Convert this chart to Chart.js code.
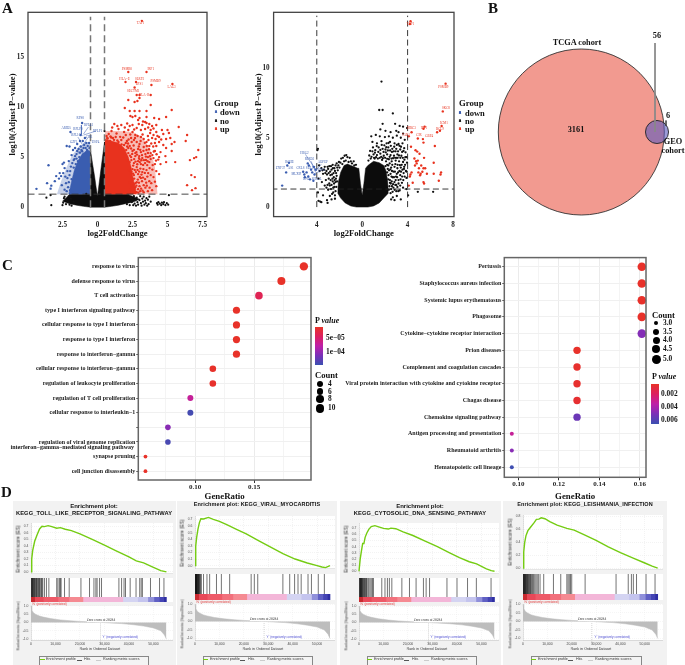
<!DOCTYPE html>
<html><head><meta charset="utf-8">
<script src="https://cdn.jsdelivr.net/npm/chart.js@4"></script>
<style>
html,body{margin:0;padding:0;background:#fff}
#root{position:relative;width:685px;height:665px;overflow:hidden}
canvas{position:absolute}
.t{position:absolute;white-space:nowrap;line-height:1;will-change:transform}
</style></head><body><div id="root"></div>
<script>
// ---------- Panel A, TCGA volcano ----------
const v1XTicks=[-2.5,0,2.5,5,7.5], v1YTicks=[0,5,10,15], v1Cuts=[-0.5,0.5], v1PCut=1.3;
const v1BlackEnv=[[-2.5,.6],[-2.2,1],[-2,1.3],[-.5,1.3],[-.5,5.7],[-.35,4.3],[-.2,3],[-.1,2],[0,1.1],[.1,2.2],[.2,3.3],[.35,4.9],[.5,6.5],[.5,1.3],[2.1,1.3],[2.5,1.1],[3,.8]];
const v1BlackLow=[[-2.5,.6],[-2,.35],[-1.5,.2],[-1,.08],[-.5,0],[.5,0],[1,.08],[1.5,.2],[2,.35],[2.5,.5],[3,.8]];
const v1BlueEnv=[[-2.05,1.3],[-2,1.6],[-1.85,2.6],[-1.65,3.7],[-1.4,4.6],[-1.1,5.3],[-.8,5.6],[-.52,5.6]];
const v1RedEnv=[[.52,6.8],[1,6.6],[1.5,6.4],[1.9,5.9],[2.2,5],[2.4,4],[2.6,2.5],[2.8,1.3]];
const v1RedHaze=[[.52,7.6],[1.5,7.6],[2.5,7.5],[3.2,7],[3.8,5.6],[4.1,4],[4.2,2.4],[4.3,1.3]];
const v1BlueHaze=[[-2.9,1.3],[-2.6,2.6],[-2.2,4],[-1.8,5.2],[-1.3,6.1],[-.8,6.5],[-.52,6.5]];
const v1Black=[[-3.65,.95],[-3.35,1.2],[-3.3,.2],[-2.5,.2],[-2.45,.45],[-2.4,.9],[-2.35,1.05],[-2.25,.3],[-2.2,.7],[-2.1,.5],[-2,.25],[-2,1.1],[-1.9,.85],[-1.85,.15],[-1.7,.55],[2.1,.3],[2.2,1.15],[2.25,.6],[2.3,.2],[2.4,.9],[2.45,.5],[2.5,.75],[2.55,.2],[2.6,1.1],[2.65,.35],[2.7,.7],[2.75,.15],[2.8,.95],[2.85,.5],[2.9,.25],[3,.7],[3.05,1.1],[3.1,.4],[3.15,.15],[3.2,.85],[3.25,.55],[3.3,1.05],[3.35,.25],[3.4,.65],[3.45,.4],[3.5,.9],[3.55,.15],[3.6,.75],[3.65,.3],[3.7,1.05],[3.8,.55],[4.25,.4],[4.3,.25],[4.35,.5],[4.45,.35],[4.55,.2],[4.6,.45],[4.7,.3],[4.75,.5],[4.85,.2],[4.95,.4],[5.05,.25],[5.1,1.2],[-.8,1.32],[.5,7.6]];
const v1Blue=[[-4.36,1.83],[-3.5,4.18],[-3.6,2.4],[-3.3,2.15],[-3.35,1.85],[-2.95,3.1],[-3.05,2.6],[-2.75,2.85],[-2.7,3.4],[-2.5,4.3],[-2.4,4.45],[-2.55,2.2],[-2.35,3.9],[-2.3,3.05],[-2.25,2.4],[-2.2,6.1],[-2,6.05],[-2.15,3.6],[-2.1,2],[-2.05,4.6],[-2,3.2],[-1.95,1.7],[-1.93,7.5],[-1.9,4.05],[-1.85,5.2],[-1.85,2.8],[-1.75,5.7],[-1.7,4.7],[-1.75,1.5],[-1.6,5.9],[-1.55,4.3],[-1.5,5.3],[-1.45,6.3],[-1.4,4.6],[-1.35,5.8],[-1.3,5],[-1.25,6.6],[-1.2,7.2],[-1.1,8.4],[-1.1,5.6],[-1,5.9],[-.95,6.2],[-.9,6.9],[-.8,6.4],[-.75,5.7],[-.7,6.1],[-.65,5.55],[-.55,5.9],[-2.2,1.6],[-2.35,1.75],[-2.15,2.9],[-2.05,2.5],[-1.95,3.6],[-1.8,4.4],[-1.7,3.95],[-1.6,5.1],[-1.65,4.8],[-1.5,4.85],[-1.45,5.6],[-1.25,5.45],[-1.2,6.05],[-1.15,5.7],[-1.05,6.6],[-.85,5.9],[-.6,6.4],[-2.45,3.4],[-2.6,3.1]];
const v1Red=[[3.17,18.6],[2.2,13.5],[3.5,13.5],[2,12.5],[2.75,12.5],[2.65,11.95],[3.85,12.2],[5.35,12.3],[2.8,11.2],[3,11.2],[3.8,11.2],[3,10.9],[2.2,10.7],[2.65,10.5],[2.85,10.6],[3.8,10.2],[1.95,9.9],[2.3,9.6],[2.65,9.6],[3,9.6],[3.5,9.6],[5.3,9.7],[2.35,9.1],[2.5,9],[2.7,9.1],[3,8.9],[3.5,9],[4.05,8.9],[4.9,9],[4.4,8.8],[2.9,8.7],[1.2,8.3],[1.7,8.2],[2.3,8.1],[2.5,8.2],[3.2,8.2],[3.4,8.5],[3.5,8.4],[3.7,8.3],[3.9,8.1],[4.2,8.2],[5.8,8],[5,7.7],[4.6,7.7],[1.5,7.8],[2.2,7.7],[2.8,7.9],[3.1,7.7],[3.4,7.8],[3.8,7.7],[1,7.6],[1.9,7.5],[2.5,7.5],[4.2,7.5],[4.7,7.3],[5.1,7.4],[6.4,7.2],[6.3,6.6],[5.5,6.5],[5.3,6.3],[5.2,6.9],[4.4,6.5],[4.9,6.8],[4.7,6.2],[4.1,6.4],[4.2,6.1],[3.7,6.1],[3.3,6.8],[2.8,6.5],[2.4,6.9],[2.1,6.6],[1.7,6.7],[1.3,7],[.8,7.3],[.65,7.1],[1.1,6.9],[1.5,6.5],[1.9,6.2],[2.3,6.1],[2.6,6.7],[3,6.3],[3.5,6.5],[3.9,6.9],[3.1,7],[2.7,7.2],[3.6,7.1],[4,7.2],[4.4,7],[3.3,6],[2.9,5.8],[2.5,5.6],[2.2,5.4],[2.05,5.7],[2.4,5],[2.7,5.1],[3.1,5.5],[3.5,5.7],[3.8,5.4],[4.1,5.6],[4.5,5.5],[4.9,5.9],[4.85,5.1],[4.4,5],[4,4.9],[3.6,5],[3.2,4.9],[2.9,4.6],[2.6,4.4],[2.3,4.5],[2.5,3.8],[2.8,4],[3.1,4.3],[3.4,4.4],[3.7,4.5],[4.1,4.3],[4.9,4.5],[5.55,4.5],[5.3,5.6],[7.2,5.7],[7.05,5],[6.9,4.9],[6.6,4.7],[6.7,3.2],[6.95,3],[6.4,2.2],[7,1.9],[6.75,1.7],[4.2,2.1],[3.9,1.7],[3.6,1.6],[3.8,3.2],[3.5,3.7],[3.2,3.5],[2.9,3.3],[2.6,3.2],[2.35,3.4],[2.5,2.7],[2.8,2.5],[3.1,2.9],[3.4,2.8],[3.7,2.6],[4,3],[3.3,2.2],[3,2.1],[2.7,2],[2.45,2.2],[2.55,1.6],[2.8,1.5],[3.05,1.6],[3.3,1.5],[2.9,1.8],[2.1,4.7],[1.95,5.3],[1.8,5.8],[1.55,5.9],[1.25,6.3],[.9,6.6],[.7,6.9],[2.25,3.7],[2.3,2.5],[2.45,1.45],[3.55,4.2],[2.7,5.4],[3,4.8],[2.2,5.9]];
const v1RedMore=[[.72,6.85],[.93,7.05],[1.18,6.72],[1.36,7.35],[1.62,7.02],[1.84,6.95],[2.02,7.2],[2.18,6.35],[2.34,7.25],[2.44,6.5],[2.58,6.15],[2.68,6.9],[2.86,7.1],[2.95,6.05],[3.08,6.6],[3.22,7.25],[3.38,6.42],[3.52,6.1],[3.64,6.7],[3.76,7.4],[3.84,6.35],[3.98,6.05],[4.15,6.8],[4.28,7.1],[4.55,6.75],[1.05,7.95],[1.42,8.1],[1.95,7.95],[2.12,8.35],[2.62,7.75],[2.95,8.3],[3.25,8.55],[3.62,7.95],[4,7.85],[2.32,5.15],[2.48,5.32],[2.6,5.72],[2.78,5.5],[2.82,5.25],[2.98,5.1],[3.05,5.72],[3.18,5.2],[3.28,5.62],[3.42,5.3],[3.46,5.05],[3.6,5.42],[3.68,5.78],[3.74,5.08],[3.92,5.2],[4.02,5.55],[4.22,5.28],[4.34,4.75],[2.42,4.7],[2.55,4.15],[2.62,4.8],[2.72,4.55],[2.84,4.28],[2.96,4.9],[3.02,4.5],[3.14,4.68],[3.26,4.22],[3.32,4.7],[3.46,4.72],[3.58,4.58],[3.8,4.8],[3.94,4.2],[4.18,4.65],[4.5,4.3],[2.42,3.55],[2.54,3.35],[2.66,3.72],[2.74,3.5],[2.86,3.72],[2.98,3.55],[3.06,3.85],[3.14,3.25],[3.28,3.8],[3.38,3.42],[3.62,3.4],[3.72,3.9],[3.92,3.75],[4.2,3.6],[4.4,3.3],[2.62,2.85],[2.7,2.4],[2.88,2.75],[2.96,2.45],[3.02,3.02],[3.18,2.6],[3.25,2.95],[3.48,2.45],[3.56,3.05],[3.84,2.4],[4.1,2.55],[2.64,1.85],[2.78,2.15],[2.92,1.45],[3.12,1.85],[3.22,1.65],[3.42,1.95],[3.52,2.15],[3.72,1.95],[2.62,2.25],[2.5,2.1],[2.35,1.75],[2.4,5.85],[2.12,6.05],[1.72,6.25],[1.42,6.65],[.98,6.95],[2.22,6.75],[2.02,6.4]];
const v1Leaders=[[-1.15,8.2],[-1.15,7.3],null,[-.65,8],[-1,7.3],null,[-.1,7.6],[-1,7.2],null,[-.7,6.9],[-1.2,5.9],null,[-.5,6.2],[-.9,5.3],null,[-1.4,7],[-1.1,6.3]];
const v1Names=[["TAP1",3.07,18.33],["PSMB8",2.1,13.8],["IRF1",3.8,13.76],["HLA−E",1.93,12.8],["SLRF3",3,12.8],["PSMB9",4.14,12.55],["EPS1",2.98,12.29],["LAG3",5.29,11.96],["SECTM1",2.55,11.54],["HLA−B",3.33,11.2]];
const v1BlueNames=[["RPS8",-1.24,8.85],["ARID5",-2.24,7.88],["RPLP0",-1.4,7.8],["RPL41",-.64,8.23],["RPLP1",0,7.6],["RPL10A",-1.47,7.19],["CIR1",-.6,7.03],["GZF1",-1.7,6.5],["USP4",-.14,6.44],["RPS12",-1.12,5.4]];
// ---------- Panel A, GEO volcano ----------
const v2XTicks=[-4,0,4,8], v2YTicks=[0,5,10], v2Cuts=[-4,4], v2PCut=1.3;
const v2Upper=[[-2.15,1],[-2.1,1.8],[-1.9,2.5],[-1.6,3],[-1.3,3.1],[-1,3],[-.7,2.9],[-.4,2.8],[-.3,2.8],[-.15,1.7],[0,.85],[.15,1.7],[.3,2.8],[.5,3],[1,3.3],[1.5,3.2],[1.9,3],[2.1,2.6],[2.25,1.8],[2.3,1]];
const v2Lower=[[-2.15,1],[-1.9,.65],[-1.5,.3],[-1,.08],[-.5,0],[.5,0],[1,.08],[1.5,.3],[1.9,.65],[2.3,1]];
const v2Black=[[1.7,9.05],[1.5,7],[1.8,7],[2.7,6.75],[1.8,6],[2.9,6],[3.3,5.85],[3.6,5.8],[1.6,5.6],[2.05,5.5],[2.5,5.4],[3,5.5],[3.2,5.4],[3.6,5.3],[3.95,5.7],[.8,5.1],[1.2,5.2],[1.55,5.1],[2,5.05],[2.35,5.1],[2.7,5],[3.05,5.15],[3.4,5],[3.75,4.85],[.9,4.7],[1.3,4.6],[1.7,4.75],[2.15,4.6],[2.45,4.7],[2.85,4.6],[3.2,4.55],[3.55,4.6],[.95,4.3],[1.15,4.1],[1.45,4.3],[1.8,4.2],[2.05,4.15],[2.3,4.3],[2.65,4.2],[3,4.2],[3.35,4.15],[3.7,4.25],[1,3.8],[1.3,3.75],[1.6,3.85],[1.9,3.7],[2.2,3.8],[2.5,3.75],[2.8,3.7],[3.1,3.8],[3.45,3.7],[3.8,3.6],[.75,3.5],[1.1,3.5],[1.75,3.4],[2.1,3.3],[2.35,3.45],[2.6,3.3],[2.95,3.35],[3.25,3.3],[3.6,3.25],[3.95,3.2],[2.05,2.95],[2.3,3],[2.55,2.85],[2.85,2.9],[3.1,2.8],[3.4,2.85],[3.7,2.9],[2.2,2.5],[2.5,2.4],[2.75,2.55],[3.05,2.4],[3.35,2.3],[3.65,2.45],[3.9,2.1],[2.3,2],[2.6,1.85],[2.95,1.95],[3.2,1.7],[3.5,1.75],[2.4,1.5],[2.75,1.4],[3,1.15],[3.3,1.2],[2.5,1],[2.7,.7],[2.85,.5],[3.05,.8],[3.4,.55],[3.9,1.3],[4.05,.85],[4.9,1.1],[6.25,1.1],[-.7,3],[-1,3.3],[-1.3,3.6],[-1.55,3.7],[-1.85,3.5],[-1.45,3.35],[-1.75,3.1],[-2.1,3],[-2.35,3],[-2.6,3.05],[-2.9,2.95],[-2.15,2.65],[-2.4,2.6],[-2.7,2.7],[-3,2.75],[-3.3,2.9],[-3.6,2.8],[-2.25,2.25],[-2.5,2.15],[-2.8,2.3],[-3.1,2.35],[-3.45,2.4],[-3.75,2.6],[-2.35,1.8],[-2.6,1.85],[-2.9,1.7],[-3.2,1.95],[-3.55,1.8],[-2.45,1.45],[-2.75,1.3],[-3,1.25],[-2.55,1.05],[-2.85,.8],[-3.1,.5],[-3.45,.85],[-3.05,.3],[-3.85,.45],[-3.7,.4],[-3.6,.35],[-3.9,1.05],[-3.95,4.1],[-3.9,4.2],[-3.85,2.05],[-2.4,.6],[2.55,.55],[-3.8,3]];
const v2BlackMore=[[.55,3.35],[.62,3.72],[.7,4.05],[.82,3.62],[.9,4.02],[1.05,3.55],[1.12,3.92],[1.22,3.6],[1.28,4.4],[1.38,3.5],[1.42,3.98],[1.55,3.55],[1.6,4.12],[1.68,3.62],[1.72,4.48],[1.82,3.52],[1.88,3.98],[1.95,4.45],[2.02,3.55],[2.08,3.95],[2.12,4.32],[2.2,3.48],[2.26,4.08],[2.32,4.62],[2.42,3.62],[2.46,4.08],[2.52,4.42],[2.58,3.5],[2.62,3.98],[2.72,3.52],[2.78,4.02],[2.82,4.35],[2.9,3.55],[2.94,4.02],[3.02,3.55],[3.05,4.48],[3.12,3.55],[3.16,4.02],[3.24,3.72],[3.28,4.42],[3.36,3.55],[3.42,4.35],[3.52,3.98],[3.58,3.55],[3.64,4.05],[3.72,3.42],[3.82,3.95],[3.9,3.6],[2.12,2.1],[2.2,3.05],[2.25,2.75],[2.32,2.3],[2.36,2.65],[2.42,3.15],[2.44,1.95],[2.48,2.72],[2.52,1.7],[2.58,2.2],[2.62,2.6],[2.65,3.05],[2.68,2.15],[2.72,1.65],[2.8,2.15],[2.84,1.8],[2.88,2.55],[2.92,3.1],[2.98,2.2],[3,1.6],[3.08,2.15],[3.12,3.05],[3.16,2.5],[3.2,1.95],[3.28,2.6],[3.32,3.02],[3.38,2],[3.42,2.55],[3.48,3.05],[3.52,2.2],[3.55,2.7],[3.62,1.95],[3.68,2.75],[3.74,2.2],[3.78,3.05],[3.85,2.6],[3.92,2.55],[2.35,1.25],[2.45,1.75],[2.55,1.3],[2.62,1.5],[2.68,1.1],[2.85,1.25],[2.92,1.6],[3.1,1.45],[3.18,1.15],[3.35,1.55],[3.6,1.4],[-.55,3.05],[-.75,3.3],[-.9,3.15],[-1.1,3.55],[-1.2,3.25],[-1.4,3.75],[-1.6,3.3],[-1.7,3.55],[-1.92,3.2],[-2,2.85],[-2.05,3.25],[-2.2,2.85],[-2.25,3.15],[-2.3,2.45],[-2.45,2.8],[-2.52,2.45],[-2.58,2.8],[-2.65,2.35],[-2.75,2.95],[-2.82,2.55],[-2.95,2.45],[-3.05,2.9],[-3.15,2.6],[-3.25,2.45],[-3.35,2.7],[-3.5,2.65],[-2.22,1.85],[-2.28,1.45],[-2.32,2.05],[-2.42,1.95],[-2.48,1.7],[-2.55,1.4],[-2.62,2.05],[-2.7,1.6],[-2.78,1.95],[-2.85,1.55],[-2.95,2.05],[-3.05,1.6],[-3.15,1.4],[-3.3,1.55],[-2.35,1.15],[-2.4,.85],[-2.65,.95],[-2.7,.55]];
const v2Red=[[4.26,13.4],[4.2,13.2],[7.35,8.9],[7.1,6.9],[7,5.85],[6.6,5.4],[6.85,5.5],[5.5,5.8],[5.4,5.65],[4.35,5.4],[4.1,5.1],[4.9,4.95],[5.35,4.9],[5.4,4.65],[6.4,4.4],[4.3,4.35],[4.7,4.1],[4.85,4],[5.05,3.85],[4.6,3.5],[4.75,3.3],[4.9,3.35],[5.45,3.55],[6.3,3.2],[4.65,3],[4.8,3.15],[5.2,3],[5,2.8],[5.4,2.8],[5.55,2.8],[5.3,2.55],[4.35,2.5],[4.25,2.35],[4.95,2.5],[5.15,2.4],[5.7,2.4],[6.3,2.4],[6.95,2.5],[6.9,2.35],[4.2,2.2],[5.1,2.3],[6.75,1.9],[4.45,1.75],[5.4,1.8],[5.45,1.7],[4.1,1.55]];
const v2Blue=[[-7.05,1.55],[-6.7,2.5],[-6.6,3],[-6.45,3.2],[-5.2,2.55],[-5.1,2.35],[-5.05,2.15],[-4.9,2.5],[-4.75,2.2],[-4.8,3.15],[-4.7,3],[-4.5,2.7],[-4.4,2.5],[-4.25,2.9],[-4.2,2.35],[-4.1,2.7],[-4.6,2],[-4.3,1.9]];
const v2Leaders=[[-5,3.8],[-4.1,2.7],null,[-4.5,3.3],[-4.1,2.5],null,[-3.6,3.1],[-4.1,2.6],null,[-3.7,2.6],[-4.2,2.4]];
const v2Names=[["TAP1",4.26,13.2],["PSMB9",7.15,8.68],["SKC8",7.38,7.1],["ICM1",7.2,6.08],["BCL9",6.85,5.6],["BIRC3",4.32,5.68],["IRF1",5.44,5.68],["TAB1",3.85,5.19],["CIR",5,5.2],["GBP4",5.9,5.14]];
const v2BlueNames=[["HBG2",-5.09,3.89],["KIRD1",-4.62,3.42],["BCHE",-6.4,3.25],["ZNF37",-7.2,2.78],["AS1",-6.3,2.78],["CRLS",-5.44,2.78],["SULF2",-4.55,2.78],["AOPEP",-3.47,3.25],["FCHO",-3.68,2.64],["MLXIP",-5.8,2.4],["BNC",-4.9,1.98],["SH3GL",-4,1.98]];
// ---------- Panel B ----------
const vennSets=["TCGA cohort","GEO cohort"], vennTotals=[3217,62], vennCounts=[3161,56,6];
// ---------- Panel C ----------
const goTerms=["response to virus","defense response to virus","T cell activation","type I interferon signaling pathway","cellular response to type I interferon","response to type I interferon","response to interferon−gamma","cellular response to interferon−gamma","regulation of leukocyte proliferation","regulation of T cell proliferation","cellular response to interleukin−1","","regulation of viral genome replication","synapse pruning","cell junction disassembly"];
const goRatio=[.192,.173,.154,.135,.135,.135,.135,.115,.115,.096,.096,.077,.077,.058,.058];
const goCount=[10,9,8,7,7,7,7,6,6,5,5,4,4,3,3];
const goP=[.8e-5,.8e-5,3.5e-5,.8e-5,.8e-5,.8e-5,.8e-5,.9e-5,1e-5,7e-5,14.2e-5,10.5e-5,14e-5,.8e-5,.8e-5];
const keggTerms=["Pertussis","Staphylococcus aureus infection","Systemic lupus erythematosus","Phagosome","Cytokine−cytokine receptor interaction","Prion diseases","Complement and coagulation cascades","Viral protein interaction with cytokine and cytokine receptor","Chagas disease","Chemokine signaling pathway","Antigen processing and presentation","Rheumatoid arthritis","Hematopoietic cell lineage"];
const keggRatio=[.161,.161,.161,.161,.161,.129,.129,.129,.129,.129,.0968,.0968,.0968];
const keggCount=[5,5,5,5,5,4,4,4,4,4,3,3,3];
const keggP=[.0005,.0005,.0005,.0005,.0049,.0005,.0006,.0006,.0007,.0055,.0032,.0048,.0066];
// ---------- Panel D ----------
const gseaNames=["KEGG_TOLL_LIKE_RECEPTOR_SIGNALING_PATHWAY","KEGG_VIRAL_MYOCARDITIS","KEGG_CYTOSOLIC_DNA_SENSING_PATHWAY","KEGG_LEISHMANIA_INFECTION"];
const es1=[[0,0],[300,.2],[700,.33],[1500,.47],[2500,.57],[3500,.66],[4500,.7],[5500,.695],[7000,.71],[8500,.695],[10500,.67],[12000,.68],[14000,.655],[16500,.635],[20000,.585],[25000,.5],[30000,.41],[35000,.32],[40000,.23],[43000,.17],[46000,.14],[50000,.07],[53000,.02],[55300,0]];
const es2=[[0,0],[300,.3],[700,.43],[1200,.55],[1800,.65],[2400,.71],[3500,.705],[5500,.73],[7500,.7],[10000,.67],[13000,.62],[17000,.55],[21000,.48],[26000,.38],[31000,.28],[36000,.18],[41000,.1],[46000,.04],[50000,0],[52000,-.02],[53500,-.03],[55300,0]];
const es3=[[0,0],[500,.2],[1000,.33],[1500,.45],[2000,.45],[2500,.55],[3200,.62],[4000,.68],[5000,.725],[6500,.74],[8000,.72],[10000,.695],[12000,.685],[13000,.7],[15000,.69],[18000,.64],[22000,.58],[27000,.49],[32000,.4],[37000,.3],[41000,.22],[45000,.155],[48000,.12],[52000,.04],[54000,.01],[55300,0]];
const es4=[[0,0],[300,.25],[700,.4],[1200,.5],[2000,.58],[3000,.63],[4500,.7],[5500,.755],[6500,.76],[7500,.78],[9000,.765],[11000,.72],[14000,.665],[18000,.615],[21000,.59],[25000,.52],[30000,.43],[35000,.33],[40000,.24],[45000,.16],[50000,.08],[53000,.03],[55300,0]];
const hits1=[100,250,400,550,700,900,1100,1300,1500,1700,2000,2200,2400,2700,3100,3300,3500,4000,4200,4500,4800,5500,6300,7300,10500,11000,11600,12000,12300,13700,15600,20400,23900,25700,26500,27000,28000,28800,35900,37000,38000,38600,40500,42900,44400,45000,45500,48800,52500,54300];
const hits2=[100,200,300,400,500,600,700,850,1000,1150,1300,1450,1600,1800,2000,2300,2600,3500,4900,6000,8800,10800,14200,23000,24300,25700,36000,38800,40800,42200,43500,46300,47700,50500,53000];
const hits3=[150,300,450,600,750,900,1050,1200,1400,1600,1900,2100,2300,2700,2900,3100,3600,4000,4500,5000,5500,5900,9300,10600,11600,12400,13400,17500,20600,23300,26300,27400,28800,35900,40000,44300,47900,53900];
const hits4=[100,200,350,500,650,800,950,1100,1300,1500,1700,1900,2100,2300,2700,2900,3100,3500,3900,4300,4800,5300,5800,6300,7000,8500,12500,15500,18000,18500,19000,19500,20000,25500,38200,43200,44500,45300,46600,50500,54200];
const rankMetric=[[0,1],[300,.75],[1000,.58],[2000,.48],[3500,.38],[5000,.32],[8000,.23],[12000,.15],[16000,.1],[20000,.06],[25000,.02],[28284,0],[32000,-.03],[37000,-.07],[42000,-.14],[46000,-.22],[50000,-.33],[53000,-.5],[54500,-.75],[55300,-1]];
const heatWidths=[1500,3500,6000,4500,5700,16300,6000,4200,2500,2200,1800,1100];
const heatColors=["#c92a30","#e84858","#ee5a68","#f2707c","#f58a92","#f3b6d8","#d4d4f2","#c4c4ee","#9090da","#6060c4","#4444b4","#2e2ea2"];
const gseaXTicks=[0,10000,20000,30000,40000,50000], zeroCross=28284;

// ---------- helpers ----------
const root=document.getElementById('root');
const SERIF='"Liberation Serif"', SANS='"Liberation Sans"';
const RED='#e8321e', BLUE='#3a5db0';
function T(txt,x,y,o={}){const d=document.createElement('div');d.className='t';
  if(o.html)d.innerHTML=txt;else d.textContent=txt;
  const s=d.style;s.left=x+'px';s.top=y+'px';s.fontFamily=o.font||SERIF;s.fontSize=(o.size||8)+'px';s.fontWeight=o.bold===false?'normal':'bold';
  s.color=o.color||'#111';
  const ax=o.align==='center'?'-50%':o.align==='right'?'-100%':'0';
  s.transform=`translate(${ax},-50%)`+(o.rot?` rotate(${o.rot}deg)`:'');
  if(o.bg)s.background=o.bg;
  root.appendChild(d);return d;}
function Box(x,y,w,h,o={}){const d=document.createElement('div');const s=d.style;s.position='absolute';s.left=x+'px';s.top=y+'px';s.width=w+'px';s.height=h+'px';
  Object.assign(s,o);root.appendChild(d);return d;}
function calib(p1,v1,p2,v2,a,b){const k=(v2-v1)/(p2-p1);return [v1+(a-p1)*k,v1+(b-p1)*k];}
const xy=a=>a.map(p=>p?{x:p[0],y:p[1]}:{x:null,y:null});
Chart.register({id:'area',
  beforeDraw(c,_,o){if(o.bg){c.ctx.fillStyle=o.bg;const a=c.chartArea;c.ctx.fillRect(a.left,a.top,a.right-a.left,a.bottom-a.top);}},
  afterDatasetsDraw(c,_,o){if(o.frame){const a=c.chartArea,x=c.ctx;x.save();x.strokeStyle=o.frame;x.lineWidth=o.lw||1;x.strokeRect(a.left,a.top,a.right-a.left,a.bottom-a.top);x.restore();}
    if(o.labels){const x=c.ctx;x.save();x.textAlign='center';x.textBaseline='middle';
      for(const g of o.labels){x.font=g.font;x.fillStyle=g.color;for(const n of g.items){x.fillText(n[0],c.scales.x.getPixelForValue(n[1]),c.scales.y.getPixelForValue(n[2]));}}x.restore();}}
});
function place(r,pad,cfg){const [L,T_,R,B]=pad;const c=document.createElement('canvas');
  const W=Math.round(r.r-r.l+L+R),H=Math.round(r.b-r.t+T_+B);
  c.width=W;c.height=H;c.style.left=(r.l-L)+'px';c.style.top=(r.t-T_)+'px';c.style.width=W+'px';c.style.height=H+'px';root.appendChild(c);
  const o=cfg.options=cfg.options||{};o.responsive=false;o.animation=false;o.events=[];
  o.layout={autoPadding:false,padding:{left:0,top:T_,right:R,bottom:0}};
  o.plugins=Object.assign({legend:{display:false},tooltip:{enabled:false}},o.plugins||{});
  if(o.scales&&o.scales.x&&o.scales.x.display!==false)o.scales.x.afterFit=s=>{s.height=B;};
  if(o.scales&&o.scales.y&&o.scales.y.display!==false)o.scales.y.afterFit=s=>{s.width=L;};
  return new Chart(c,cfg);}
const fixTicks=list=>(s=>{s.ticks=list.map(v=>({value:v}));});
const vline=(x,a,b,color,w,dash)=>({type:'line',data:[{x,y:a},{x,y:b}],borderColor:color,borderWidth:w,borderDash:dash,pointRadius:0,tension:0});
const hline=(y,a,b,color,w,dash)=>({type:'line',data:[{x:a,y},{x:b,y}],borderColor:color,borderWidth:w,borderDash:dash,pointRadius:0,tension:0});
const area=(d,color,fill)=>({type:'line',data:xy(d),borderColor:color,borderWidth:.5,backgroundColor:color,fill,pointRadius:0,tension:0});
const haze=(d,color,value)=>({type:'line',data:xy(d),borderWidth:0,borderColor:'rgba(0,0,0,0)',backgroundColor:color,fill:{value},pointRadius:0,tension:0});
const dots=(d,color,r)=>({type:'scatter',data:xy(d),backgroundColor:color,borderWidth:0,pointRadius:r});
const leaders=(d,color)=>({type:'line',data:xy(d),borderColor:color,borderWidth:.5,pointRadius:0,tension:0,spanGaps:false});
const abs=v=>String(Math.abs(v));
const smallFont='3.2px '+SERIF;

// ---------- A: volcano charts ----------
function volcano(rect,pad,xr,yr,xt,yt,ds,labels){
  return place(rect,pad,{type:'scatter',data:{datasets:ds},options:{
    scales:{
      x:{type:'linear',min:xr[0],max:xr[1],afterBuildTicks:fixTicks(xt),grid:{display:false,tickLength:3,tickColor:'#333'},border:{display:false},
        ticks:{callback:abs,font:{family:SERIF,weight:'bold',size:7.2},color:'#222',padding:1,maxRotation:0},
        title:{display:true,text:'log2FoldChange',font:{family:SERIF,weight:'bold',size:8.6},color:'#111',padding:0}},
      y:{type:'linear',min:yr[0],max:yr[1],afterBuildTicks:fixTicks(yt),grid:{display:false,tickLength:3,tickColor:'#333'},border:{display:false},
        ticks:{font:{family:SERIF,weight:'bold',size:7.2},color:'#222',padding:1},
        title:{display:true,text:'log10(Adjust P−value)',font:{family:SERIF,weight:'bold',size:8.6},color:'#111',padding:0}}},
    plugins:{area:{frame:'#444',lw:1.3,labels}}}});
}
const r1={l:28,t:9.3,r:207,b:217.3};
volcano(r1,[20,2,3,22.4],calib(97.5,0,132.5,2.5,28,207),calib(207.7,0,156.7,5,217.3,9.3),v1XTicks,v1YTicks,[
  vline(v1Cuts[0],0,19,'#777',1.5,[7,4]),vline(v1Cuts[1],0,19,'#777',1.5,[7,4]),hline(v1PCut,-5,8,'#333',.9,[7,4]),
  leaders(v1Leaders,BLUE),
  dots(v1Red,RED,1.2),dots(v1RedMore,RED,1.2),dots(v1Blue,BLUE,1.2),dots(v1Black,'#111',1.1),
  area(v1RedEnv,RED,{value:v1PCut}),area(v1BlueEnv,BLUE,{value:v1PCut}),
  haze(v1RedHaze,'rgba(232,50,30,.32)',v1PCut),haze(v1BlueHaze,'rgba(58,93,176,.28)',v1PCut),
  area(v1BlackEnv,'#0c0c0c','+1'),{type:'line',data:xy(v1BlackLow),borderColor:'#0c0c0c',borderWidth:.5,pointRadius:0,tension:0,fill:false}
],[{font:smallFont,color:RED,items:v1Names},{font:smallFont,color:BLUE,items:v1BlueNames}]);
const r2={l:273.3,t:9,r:453.3,b:217};
volcano(r2,[19.6,2,3,22.4],calib(361.7,0,407,4,273.3,453.3),calib(207.3,0,136.7,5,217,9),v2XTicks,v2YTicks,[
  vline(v2Cuts[0],0,13.8,'#222',.9,[6,3.5]),vline(v2Cuts[1],0,13.8,'#222',.9,[6,3.5]),hline(v2PCut,-8,9,'#222',.9,[6,3.5]),
  leaders(v2Leaders,BLUE),
  dots(v2Red,RED,1.2),dots(v2Blue,BLUE,1.2),dots(v2Black,'#111',1.15),dots(v2BlackMore,'#111',1.15),
  area(v2Upper,'#0c0c0c','+1'),{type:'line',data:xy(v2Lower),borderColor:'#0c0c0c',borderWidth:.5,pointRadius:0,tension:0,fill:false}
],[{font:smallFont,color:RED,items:v2Names},{font:smallFont,color:BLUE,items:v2BlueNames}]);

function groupLegend(x,y,kx,tx){
  T('Group',x,y,{size:8.7});
  [['down',BLUE,9.5],['no','#111',18],['up',RED,26]].forEach(([n,c,d])=>{
    Box(kx-1.2,y+d-1.2,2.4,2.4,{background:c,borderRadius:'50%'});
    T('a',kx,y+d-1,{size:5,color:c,font:SANS,align:'center'});
    T(n,tx,y+d,{size:8.5});});
}
groupLegend(213.5,102.7,215.7,220);
groupLegend(458.5,103,460,465);

// ---------- B: Venn ----------
{const rect={l:470,t:0,r:685,b:240};
 const maxR=83, rad=n=>maxR*Math.sqrt(n/vennTotals[0]);
 place(rect,[0,0,0,0],{type:'bubble',data:{datasets:[
   {type:'line',data:[{x:73.7,y:89},{x:73.7,y:0}],borderColor:'#888',borderWidth:1,pointRadius:0},
   {type:'line',data:[{x:84.7,y:11.5},{x:84.7,y:6}],borderColor:'#444',borderWidth:.8,pointRadius:0},
   {data:[{x:75.7,y:0,r:rad(vennTotals[1])}],backgroundColor:'rgba(90,90,190,0.6)',borderColor:'#222',borderWidth:.9},
   {data:[{x:0,y:0,r:rad(vennTotals[0])}],backgroundColor:'#f29a90',borderColor:'#333',borderWidth:.9}
 ]},options:{clip:false,scales:{x:{display:false,min:-111.3,max:103.7},y:{display:false,min:-108,max:132}}}});
 T(vennSets[0],577.3,43,{size:8.3,align:'center'});
 T(String(vennCounts[0]),575.7,130.3,{size:8.3,align:'center'});
 T(String(vennCounts[1]),657,36,{size:8.3,align:'center'});
 T(String(vennCounts[2]),668,116,{size:8.3,align:'center'});
 T('GEO',673,141.7,{size:8.3,align:'center'});
 T('cohort',673,151.3,{size:8.3,align:'center'});
}

// ---------- C: dot plots ----------
const stops=[[232,50,40],[220,32,96],[190,32,168],[122,48,184],[58,80,176]];
function pColor(p,a,b){let t=(p-a)/(b-a);t=Math.max(0,Math.min(1,t))*(stops.length-1);const i=Math.min(stops.length-2,Math.floor(t)),f=t-i;
  const m=stops[i].map((c,k)=>Math.round(c+(stops[i+1][k]-c)*f));return `rgb(${m})`;}
const cssGrad='linear-gradient(to bottom,'+stops.map(s=>`rgb(${s})`).join(',')+')';
function dotPlot(rect,xr,yr,terms,ratio,count,p,pr,xt,xLabelled,rad){
  const rows=terms.map((_,i)=>i+1);
  place(rect,[rect.l,2,3,502-rect.b],{type:'bubble',data:{datasets:[{
    data:ratio.map((v,i)=>({x:v,y:i+1,r:rad[count[i]]})),
    backgroundColor:p.map(v=>pColor(v,pr[0],pr[1])),borderWidth:0}]},
    options:{clip:false,scales:{
      x:{type:'linear',min:xr[0],max:xr[1],afterBuildTicks:fixTicks(xt),
        grid:{color:c=>xLabelled.includes(c.tick.value)?'#ebebeb':'#f4f4f4',tickLength:3,tickColor:c=>xLabelled.includes(c.tick.value)?'#333':'rgba(0,0,0,0)',lineWidth:1},border:{display:false},
        ticks:{callback:v=>xLabelled.includes(v)?v.toFixed(2):'',font:{family:SERIF,weight:'bold',size:7},color:'#222',padding:0,maxRotation:0,autoSkip:false},
        title:{display:true,text:'GeneRatio',font:{family:SERIF,weight:'bold',size:8.8},color:'#111',padding:0}},
      y:{type:'linear',reverse:true,min:yr[0],max:yr[1],afterBuildTicks:fixTicks(rows),
        grid:{color:'#f0f0f0',tickLength:2,tickColor:'#555',lineWidth:1},border:{display:false},
        ticks:{callback:v=>terms[v-1],font:{family:SERIF,weight:'bold',size:6},color:'#222',padding:1,autoSkip:false}}},
    plugins:{area:{frame:'#666',lw:1.5}}}});
}
dotPlot({l:138.3,t:255,r:310.7,b:480},calib(195,.1,254,.15,138.3,310.7),[.4,15.6],goTerms,goRatio,goCount,goP,[.75e-5,14.8e-5],[.075,.1,.125,.15,.175],[.1,.15],{3:1.9,4:2.8,5:3,6:3.3,7:3.6,8:3.8,9:4,10:4.2});
T('interferon−gamma−mediated signaling pathway',134,447,{size:6,align:'right'});
dotPlot({l:504.3,t:255,r:646,b:477.3},calib(518.3,.1,599.3,.14,504.3,646),[.45,13.6],keggTerms,keggRatio,keggCount,keggP,[.00044,.0067],[.1,.11,.12,.13,.14,.15,.16],[.1,.12,.14,.16],{3:2,4:3.7,5:4.3});

// legends for C
T('P <i>value</i>',315,321,{html:true,size:8});
Box(315,327,7.7,37.7,{background:cssGrad});
T('5e−05',326,338.3,{size:7.4});T('1e−04',326,351.7,{size:7.4});
T('Count',315,375,{size:8.6});
[['4',384,3],['6',391.5,3.3],['8',399,3.8],['10',408.3,4.3]].forEach(([n,y,r])=>{Box(320-r,y-r,2*r,2*r,{background:'#000',borderRadius:'50%'});T(n,328,y,{size:7.4});});
T('Count',651.7,315,{size:8.6});
[['3.0',323.3,2],['3.5',331.7,3],['4.0',340,3.5],['4.5',349,4],['5.0',359,4.5]].forEach(([n,y,r])=>{Box(656-r,y-r,2*r,2*r,{background:'#000',borderRadius:'50%'});T(n,663,y,{size:7.4});});
T('P <i>value</i>',651.7,377.3,{html:true,size:8});
Box(651,384,8,39.7,{background:cssGrad});
T('0.002',660.7,394,{size:7.4});T('0.004',660.7,406.7,{size:7.4});T('0.006',660.7,419.7,{size:7.4});

// ---------- D: GSEA panels ----------
const tickFont={family:SANS,size:3.4};
function gsea(g){
  Box(g.bgL,501,g.bgR-g.bgL,164,{background:'#f2f2f2'});
  const name=gseaNames[g.i];
  if(g.two){T('Enrichment plot:',(g.bgL+g.bgR)/2,505.7,{size:6,font:SANS,align:'center',bold:true});
    T(name,(g.bgL+g.bgR)/2,514,{size:5.75,font:SANS,align:'center'}).style.letterSpacing='.1px';}
  else T('Enrichment plot: '+name,(g.bgL+g.bgR)/2,505.3,{size:5.5,font:SANS,align:'center'}).style.letterSpacing='.1px';
  const xMax=(g.R-g.x0)/((g.end-g.x0)/55300);
  // ES profile
  place({l:g.x0,t:g.esT,r:g.R,b:g.esB},[10,0,0,0],{type:'line',data:{datasets:[{data:xy(g.es),borderColor:'#74cc12',borderWidth:1.4,pointRadius:0,tension:0}]},
    options:{clip:false,scales:{
      x:{type:'linear',min:0,max:xMax,afterBuildTicks:fixTicks(gseaXTicks),ticks:{display:false},grid:{color:'#e6e6e6',drawTicks:false,lineWidth:.5},border:{dash:[1,1],display:true}},
      y:{type:'linear',min:calib(g.esY0,0,g.esYm,g.esM,g.esB,g.esT)[0],max:calib(g.esY0,0,g.esYm,g.esM,g.esB,g.esT)[1],
        afterBuildTicks:fixTicks(g.esTicks),ticks:{callback:v=>v.toFixed(1),font:tickFont,color:'#555',padding:1},grid:{color:'#e6e6e6',tickLength:1.5,lineWidth:.5},border:{dash:[1,1]}}},
      plugins:{area:{bg:'#fff'}}}});
  T('Enrichment score (ES)',g.x0-12,(g.esT+g.esB)/2,{size:4.7,font:SANS,bold:false,align:'center',rot:-90,color:'#333'});
  // hits
  place({l:g.x0,t:g.hitT,r:g.R,b:g.heatT},[0,0,0,0],{type:'scatter',data:{datasets:[{data:g.hits.map(x=>({x,y:.5})),pointStyle:'line',rotation:90,pointRadius:(g.heatT-g.hitT)/2,borderColor:'rgba(0,0,0,.55)',borderWidth:1}]},
    options:{clip:false,scales:{x:{display:false,min:0,max:xMax},y:{display:false,min:0,max:1}},plugins:{area:{bg:'#fff'}}}});
  // heat bar
  place({l:g.x0,t:g.heatT,r:g.R,b:g.heatB},[0,0,0,0],{type:'bar',data:{labels:['rank'],datasets:heatWidths.map((w,i)=>({data:[w],backgroundColor:heatColors[i],borderWidth:0,barPercentage:1,categoryPercentage:1}))},
    options:{indexAxis:'y',scales:{x:{display:false,stacked:true,min:0,max:xMax},y:{display:false,stacked:true}},plugins:{area:{bg:'#fff'}}}});
  // ranked metric
  const rng=calib(g.r0,0,g.r1,1,g.rB,g.rT);
  place({l:g.x0,t:g.rT,r:g.R,b:g.rB},[10,0,0,11],{type:'line',data:{datasets:[
    vline(zeroCross,-1.2,0,'#aaa',.5,[1,1]),
    {data:xy(rankMetric),borderColor:'#bdbdbd',borderWidth:.5,backgroundColor:'#bdbdbd',fill:'origin',pointRadius:0,tension:0}]},
    options:{clip:false,scales:{
      x:{type:'linear',min:0,max:xMax,afterBuildTicks:fixTicks(gseaXTicks),ticks:{callback:v=>v.toLocaleString('en-US'),font:tickFont,color:'#444',padding:1,maxRotation:0},grid:{color:'#ececec',tickLength:1.5,lineWidth:.5},border:{dash:[1,1]}},
      y:{type:'linear',min:rng[0],max:rng[1],afterBuildTicks:fixTicks([-1,-.5,0,.5,1]),ticks:{callback:v=>v.toFixed(1),font:tickFont,color:'#555',padding:1},grid:{color:'#ececec',tickLength:1.5,lineWidth:.5},border:{dash:[1,1]}}},
      plugins:{area:{bg:'#fff'}}}});
  T('Ranked list metric (Signal2Noise)',g.x0-12,(g.rT+g.rB)/2+4,{size:3.3,font:SANS,bold:false,align:'center',rot:-90,color:'#333'});
  T("'N' (positively correlated)",g.x0+1,g.rT+1.8,{size:3.2,font:SANS,bold:false,color:'#e23a3a'});
  T("'Y' (negatively correlated)",g.x0+71,g.rB-2,{size:3.2,font:SANS,bold:false,color:'#4a4ad0'});
  const zx=g.x0+(g.end-g.x0)*zeroCross/55300;
  T('Zero cross at 28284',zx,g.r0,{size:3.2,font:SANS,bold:false,align:'center',color:'#333',bg:'#fff'});
  T('Rank in Ordered Dataset',zx-1,650,{size:3.7,font:SANS,bold:false,align:'center',color:'#333'});
  // legend box
  const w=g.legR-g.legL;
  Box(g.legL,655.5,w-1.5,8.5,{background:'#f4f4f4',border:'.75px solid #888'});
  const L=v=>g.legL+w*v;
  Box(L(.006),659.3,w*.045,1,{background:'#74cc12'});
  T('Enrichment profile',L(.065),659.8,{size:3.7,font:SANS,bold:false,color:'#333'});
  Box(L(.34),659.5,w*.045,.8,{background:'#555'});
  T('Hits',L(.41),659.8,{size:3.7,font:SANS,bold:false,color:'#333'});
  Box(L(.52),659.5,w*.045,.8,{background:'#ccc'});
  T('Ranking metric scores',L(.58),659.8,{size:3.7,font:SANS,bold:false,color:'#333'});
}
const es7=[0,.1,.2,.3,.4,.5,.6,.7];
gsea({i:0,two:true,bgL:13,bgR:175.7,x0:31.3,end:166.7,R:173.3,es:es1,hits:hits1,esT:520,esB:577.3,esY0:575,esYm:523.7,esM:.7,esTicks:es7,hitT:577.7,heatT:597,heatB:602,rT:603.3,rB:640,r0:621,r1:603,legL:39.3,legR:149});
gsea({i:1,two:false,bgL:177.3,bgR:337,x0:195.3,end:330,R:335,es:es2,hits:hits2,esT:513,esB:572,esY0:568.3,esYm:516.7,esM:.7,esTicks:es7,hitT:573.7,heatT:593.7,heatB:599.3,rT:600.7,rB:640,r0:619.7,r1:601,legL:202.7,legR:313});
gsea({i:2,two:true,bgL:340,bgR:500.7,x0:359,end:494,R:498.5,es:es3,hits:hits3,esT:520,esB:577.3,esY0:574.3,esYm:525.7,esM:.7,esTicks:es7,hitT:577.7,heatT:597,heatB:601.7,rT:603,rB:640,r0:621,r1:603,legL:366.7,legR:476.7});
gsea({i:3,two:false,bgL:503.3,bgR:666.7,x0:522.7,end:657.7,R:663,es:es4,hits:hits4,esT:511.7,esB:572.3,esY0:570.3,esYm:513.3,esM:.8,esTicks:[0,.1,.2,.3,.4,.5,.6,.7,.8],hitT:573.7,heatT:593.7,heatB:599.3,rT:600.7,rB:640,r0:619.7,r1:601,legL:530.7,legR:641.7});

// panel letters
T('A',2,7.5,{size:15});T('B',488,7.5,{size:15});T('C',2,265,{size:15});T('D',1,492,{size:15});
</script></body></html>
